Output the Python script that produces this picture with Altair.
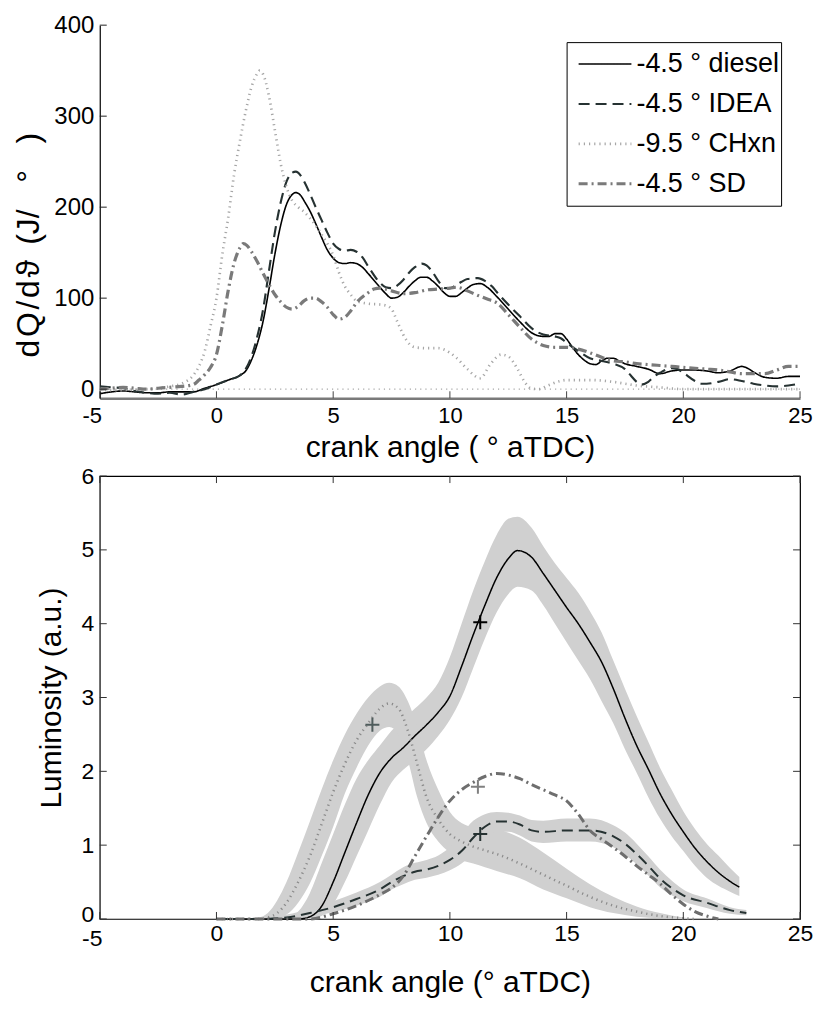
import altair as alt
import pandas as pd

FONT = "Liberation Sans"

# ---------------- data: heat release rate (top panel) ----------------
SERIES = ["-4.5 ° diesel", "-4.5 ° IDEA", "-9.5 ° CHxn", "-4.5 ° SD"]

HR_DIESEL = [(-5, -5), (-4.5, -3), (-4, -2), (-3.5, -3), (-3, -4), (-2.5, -4), (-2, -3), (-1.5, -3),
             (-1, -3), (-0.5, 1), (0, 5), (0.5, 10), (1, 15), (1.25, 20), (1.5, 32), (1.75, 50),
             (2, 75), (2.25, 110), (2.5, 148), (2.75, 180), (3, 203), (3.25, 214), (3.4, 216),
             (3.6, 213), (3.8, 205), (4, 196), (4.25, 182), (4.5, 167), (4.75, 153), (5, 144),
             (5.25, 139), (5.5, 138), (5.75, 139), (6, 138), (6.25, 134), (6.5, 127), (7, 112),
             (7.25, 105), (7.5, 100), (7.75, 101), (8, 106), (8.25, 113), (8.5, 119), (8.75, 123),
             (9, 123), (9.25, 119), (9.5, 113), (9.75, 106), (10, 102), (10.25, 102), (10.5, 106),
             (10.75, 111), (11, 115), (11.3, 116), (11.6, 112), (12, 102), (12.5, 88), (13, 74),
             (13.5, 62), (14, 58), (14.25, 58), (14.5, 61), (14.75, 61), (15, 55), (15.25, 46),
             (15.5, 38), (15.75, 32), (16, 28), (16.25, 27), (16.5, 31), (16.75, 34), (17, 34),
             (17.25, 31), (17.5, 28), (18, 25), (18.5, 22), (19, 17), (19.5, 20), (20, 21),
             (20.5, 21), (21, 20), (21.5, 18), (22, 20), (22.5, 25), (22.75, 23), (23, 19),
             (23.5, 13), (24, 12), (24.5, 14), (25, 14)]

HR_IDEA = [(-5, 3), (-4.5, 2), (-4, 1), (-3.5, -2), (-3, -4), (-2.5, -5), (-2, -4), (-1.5, -6),
           (-1, -3), (-0.5, 0), (0, 5), (0.5, 10), (1, 15), (1.25, 22), (1.5, 36), (1.75, 58),
           (2, 88), (2.25, 130), (2.5, 172), (2.75, 205), (3, 228), (3.25, 238), (3.4, 239),
           (3.6, 235), (3.8, 226), (4, 215), (4.25, 200), (4.5, 186), (4.75, 172), (5, 160),
           (5.25, 154), (5.5, 152), (5.75, 153), (6, 151), (6.25, 145), (6.5, 135), (7, 117),
           (7.25, 112), (7.5, 111), (7.75, 114), (8, 120), (8.25, 128), (8.5, 134), (8.8, 138),
           (9, 136), (9.25, 129), (9.5, 119), (9.8, 111), (10, 111), (10.25, 114), (10.5, 118),
           (10.75, 121), (11.2, 122), (11.5, 119), (11.8, 113), (12, 107), (12.5, 93), (13, 80),
           (13.5, 67), (14, 60), (14.5, 58), (14.75, 56), (15, 51), (15.5, 42), (16, 34),
           (16.5, 31), (17, 28), (17.5, 22), (17.75, 15), (18, 8), (18.2, 5), (18.5, 8),
           (18.75, 14), (19, 18), (19.5, 23), (19.75, 22), (20, 18), (20.5, 9), (20.75, 6),
           (21, 6), (21.5, 8), (22, 11), (22.5, 9), (23, 6), (23.5, 4), (24, 3), (24.5, 4), (25, 6)]

HR_CHXN = [(-5, -1), (-4, -1), (-3, 0), (-2.5, 1), (-2, 3), (-1.5, 6), (-1, 15), (-0.75, 25),
           (-0.5, 42), (-0.25, 70), (0, 100), (0.25, 148), (0.5, 188), (0.75, 235), (1, 272),
           (1.25, 305), (1.5, 332), (1.75, 347), (1.85, 350), (2, 346), (2.25, 322), (2.5, 285),
           (2.75, 248), (3, 222), (3.25, 207), (3.5, 200), (3.75, 195), (4, 188), (4.25, 180),
           (4.5, 170), (4.75, 160), (5, 147), (5.25, 128), (5.5, 113), (5.75, 104), (6, 97),
           (6.5, 94), (7, 93), (7.25, 92), (7.5, 88), (7.75, 74), (8, 60), (8.25, 50), (8.5, 46),
           (9, 45), (9.5, 45), (10, 40), (10.3, 34), (10.75, 22), (11.3, 12), (11.75, 28),
           (12.2, 38), (12.5, 36), (12.9, 22), (13.2, 8), (13.46, 1), (13.8, 0), (14.2, 4),
           (14.6, 8), (15, 10), (16, 10), (17, 8), (17.5, 6), (18, 4), (19, 2), (20, 0), (25, 0)]

HR_SD = [(-5, 0), (-4.5, 1), (-4, 2), (-3.5, 1), (-3, 0), (-2.5, 1), (-2, 2), (-1.5, 3), (-1, 5),
         (-0.75, 10), (-0.5, 16), (-0.25, 24), (0, 38), (0.25, 70), (0.5, 108), (0.75, 138),
         (1, 155), (1.15, 160), (1.3, 158), (1.5, 151), (1.75, 140), (2, 127), (2.25, 115),
         (2.5, 104), (2.75, 96), (3, 90), (3.25, 88), (3.5, 91), (3.75, 97), (4, 100), (4.25, 100),
         (4.5, 96), (4.75, 90), (5, 82), (5.25, 77), (5.5, 79), (5.75, 86), (6, 95), (6.5, 106),
         (6.75, 110), (7, 111), (7.5, 108), (8, 105), (8.5, 106), (9, 109), (9.5, 110), (10, 111),
         (10.3, 112), (10.75, 108), (11.2, 103), (11.6, 99), (12, 95), (12.5, 82), (13, 68),
         (13.5, 55), (14, 48), (14.5, 46), (15, 46), (15.5, 44), (16, 40), (16.5, 35), (17, 31),
         (17.5, 30), (18, 28), (18.5, 27), (19, 26), (19.5, 25), (20, 24), (20.5, 23), (21, 22),
         (21.5, 21), (22, 19), (22.5, 17), (23, 17), (23.5, 17), (24, 21), (24.5, 25), (25, 25)]

# ---------------- data: luminosity (bottom panel): (x, mean, low, high) ----------------
LUM_DIESEL = [(0, 0, 0, 0), (3.0, 0, 0, 0), (3.5, 0.0, 0.0, 0.1), (4.0, 0.03, 0.0, 0.35),
              (4.5, 0.17, 0.04, 0.75), (5.0, 0.5, 0.2, 1.15), (5.5, 0.9, 0.5, 1.55),
              (6.0, 1.3, 0.85, 1.9), (6.5, 1.68, 1.2, 2.15), (7.0, 1.98, 1.55, 2.35),
              (7.5, 2.18, 1.85, 2.55), (8.0, 2.32, 2.02, 2.7), (8.5, 2.48, 2.15, 2.85),
              (9.0, 2.63, 2.3, 3.0), (9.5, 2.8, 2.48, 3.2), (10.0, 3.02, 2.7, 3.55),
              (10.5, 3.42, 3.0, 4.0), (11.0, 3.85, 3.4, 4.45), (11.5, 4.25, 3.8, 4.85),
              (12.0, 4.62, 4.15, 5.2), (12.5, 4.88, 4.4, 5.42), (12.9, 4.99, 4.5, 5.45),
              (13.5, 4.9, 4.45, 5.3), (14.0, 4.68, 4.25, 5.05), (14.5, 4.45, 4.0, 4.82),
              (15.0, 4.22, 3.75, 4.62), (15.5, 4.0, 3.5, 4.42), (16.0, 3.75, 3.25, 4.17),
              (16.5, 3.48, 2.95, 3.88), (17.0, 3.12, 2.65, 3.5), (17.5, 2.72, 2.3, 3.12),
              (18.0, 2.35, 1.98, 2.75), (18.5, 2.03, 1.65, 2.4), (19.0, 1.7, 1.36, 2.05),
              (19.5, 1.42, 1.12, 1.75), (20.0, 1.18, 0.92, 1.46), (20.5, 0.96, 0.72, 1.22),
              (21.0, 0.78, 0.56, 1.02), (21.5, 0.63, 0.45, 0.86), (22.0, 0.51, 0.37, 0.69),
              (22.4, 0.43, 0.31, 0.57)]

LUM_CHXN = [(0, 0, 0, 0), (1.8, 0, 0, 0.02), (2.2, 0.02, 0, 0.08), (2.6, 0.08, 0.02, 0.25),
            (3.0, 0.22, 0.06, 0.5), (3.5, 0.5, 0.22, 0.9), (4.0, 0.85, 0.48, 1.32),
            (4.5, 1.28, 0.85, 1.75), (5.0, 1.72, 1.25, 2.15), (5.5, 2.1, 1.7, 2.5),
            (6.0, 2.42, 2.05, 2.78), (6.5, 2.65, 2.35, 3.0), (7.0, 2.85, 2.55, 3.15),
            (7.4, 2.92, 2.6, 3.2), (7.8, 2.85, 2.5, 3.15), (8.2, 2.55, 2.15, 2.95),
            (8.6, 2.1, 1.65, 2.6), (9.0, 1.65, 1.3, 2.15), (9.5, 1.35, 1.05, 1.75),
            (10.0, 1.15, 0.9, 1.45), (10.5, 1.05, 0.8, 1.3), (11.0, 0.98, 0.75, 1.25),
            (11.5, 0.93, 0.7, 1.25), (12.0, 0.88, 0.65, 1.22), (13.0, 0.75, 0.55, 1.1),
            (14.0, 0.6, 0.4, 0.9), (15.0, 0.45, 0.28, 0.68), (16.0, 0.3, 0.16, 0.47),
            (17.0, 0.18, 0.08, 0.3), (18.0, 0.1, 0.03, 0.17), (19.0, 0.04, 0.01, 0.08),
            (20.0, 0.01, 0, 0.02), (20.5, 0, 0, 0)]

LUM_IDEA = [(0, 0, 0, 0), (2.0, 0, 0, 0.02), (3.0, 0.02, 0, 0.06), (4.0, 0.08, 0.03, 0.14),
            (5.0, 0.16, 0.09, 0.24), (6.0, 0.27, 0.18, 0.36), (7.0, 0.4, 0.3, 0.5),
            (7.5, 0.5, 0.4, 0.6), (8.0, 0.58, 0.47, 0.7), (8.5, 0.64, 0.53, 0.76),
            (9.0, 0.67, 0.56, 0.8), (9.5, 0.72, 0.6, 0.86), (10.0, 0.8, 0.66, 0.97),
            (10.5, 0.92, 0.75, 1.15), (11.0, 1.1, 0.9, 1.33), (11.5, 1.25, 1.1, 1.42),
            (12.0, 1.32, 1.18, 1.45), (12.5, 1.32, 1.18, 1.44), (13.0, 1.28, 1.13, 1.4),
            (13.5, 1.2, 1.05, 1.34), (14.0, 1.18, 1.03, 1.33), (15.0, 1.2, 1.05, 1.36),
            (16.0, 1.2, 1.05, 1.36), (17.0, 1.12, 0.97, 1.27), (17.5, 1.02, 0.87, 1.17),
            (18.0, 0.88, 0.74, 1.02), (18.5, 0.72, 0.59, 0.85), (19.0, 0.55, 0.43, 0.67),
            (19.5, 0.42, 0.32, 0.52), (20.0, 0.32, 0.24, 0.4), (21.0, 0.22, 0.15, 0.28),
            (22.0, 0.12, 0.07, 0.16), (22.7, 0.08, 0.05, 0.12)]

LUM_SD = [(0, 0), (4.0, 0), (5.0, 0.07), (6.0, 0.18), (6.5, 0.25), (7.0, 0.33), (7.5, 0.42),
          (8.0, 0.58), (8.5, 0.85), (9.0, 1.12), (9.5, 1.38), (10.0, 1.6), (10.5, 1.75),
          (11.0, 1.85), (11.5, 1.93), (12.0, 1.97), (12.5, 1.95), (13.0, 1.9), (13.5, 1.82),
          (14.0, 1.75), (14.5, 1.68), (15.0, 1.6), (15.5, 1.42), (16.0, 1.2), (16.5, 1.08),
          (17.0, 0.97), (17.5, 0.85), (18.0, 0.72), (18.5, 0.6), (19.0, 0.48), (19.5, 0.33),
          (20.0, 0.2), (20.5, 0.1), (21.0, 0.04), (21.5, 0)]

# "+" markers (series, x, y)
MARKERS = [("-4.5 ° diesel", 11.3, 4.02), ("-9.5 ° CHxn", 6.68, 2.63),
           ("-4.5 ° SD", 11.2, 1.79), ("-4.5 ° IDEA", 11.3, 1.15)]

X_TICKS = [-5, 0, 5, 10, 15, 20, 25]
TOP_Y_TICKS = [0, 100, 200, 300, 400]
BOT_Y_TICKS = [0, 1, 2, 3, 4, 5, 6]

TOP_Y_TITLE = "d\u200aQ\u200a/\u200ad\u200aϑ\u00a0\u2009(J/\u00a0\u00a0\u00a0°\u00a0\u00a0\u00a0)"

# ---------------- styles ----------------
COLORS = ["#000000", "#263232", "#a6a6a6", "#7a7a7a"]
DASHES = [[1, 0], [11, 6], [1.2, 4], [9, 4, 2, 4]]
WIDTHS = [1.6, 3.2, 1.2, 1.3]
BAND = "#d0d0d0"
W = 702
H_TOP = 374
H_BOT = 444

HR = {SERIES[0]: HR_DIESEL, SERIES[1]: HR_IDEA, SERIES[2]: HR_CHXN, SERIES[3]: HR_SD}
hr_df = pd.concat([pd.DataFrame({"x": [p[0] for p in pts], "y": [p[1] for p in pts], "series": s})
                   for s, pts in HR.items()], ignore_index=True)

band_rows = []
for s, rows in [(SERIES[0], LUM_DIESEL), (SERIES[2], LUM_CHXN), (SERIES[1], LUM_IDEA)]:
    for r in rows:
        band_rows.append({"series": s, "x": r[0], "m": r[1], "lo": r[2], "hi": r[3]})
band_df = pd.DataFrame(band_rows)
line_df = pd.concat([band_df[["series", "x", "m"]],
                     pd.DataFrame({"series": SERIES[3], "x": [p[0] for p in LUM_SD],
                                   "m": [p[1] for p in LUM_SD]})], ignore_index=True)
mk_df = pd.DataFrame(MARKERS, columns=["series", "x", "y"])

hyphen = "datum.value < 0 ? '-' + abs(datum.value) : '' + datum.value"
neg_shift = {"condition": {"test": "datum.value < 0", "value": -8}, "value": 0}
neg_pad = {"condition": {"test": "datum.value < 0", "value": 9}, "value": 4}
zero_up = {"condition": {"test": "datum.value === 0", "value": -4}, "value": 0}

legend = alt.Legend(title=None, orient="none", legendX=468, legendY=17, strokeColor="black",
                    fillColor="white", padding=2, labelFontSize=27, labelFont=FONT,
                    labelColor="black", symbolType="stroke", symbolSize=2800, rowPadding=0,
                    clipHeight=40, symbolOffset=8, labelOffset=3, labelLimit=400)

xs_top = alt.Scale(domain=[-5, 25], nice=False, zero=False)
ys_top = alt.Scale(domain=[-10, 400], nice=False, zero=False)

top_lines = alt.Chart(hr_df).mark_line(interpolate="monotone", clip=True).encode(
    x=alt.X("x:Q", scale=xs_top,
            axis=alt.Axis(values=X_TICKS, ticks=False, labelExpr=hyphen, labelFontSize=22,
                          labelFlush=False, labelOffset=neg_shift,
                          labelPadding=7, domainColor="#7a7a7a", domainWidth=2.5,
                          title="crank angle ( ° aTDC)", titleFontSize=30, titleY=58,
                          titleBaseline="alphabetic")),
    y=alt.Y("y:Q", scale=ys_top,
            axis=alt.Axis(values=TOP_Y_TICKS, ticks=False, labelFontSize=24, labelPadding=6,
                          labelFlush=False,
                          domainColor="black", domainWidth=1.2, title=TOP_Y_TITLE,
                          titleFontSize=32, titleX=-54, titleY=220)),
    color=alt.Color("series:N", scale=alt.Scale(domain=SERIES, range=COLORS), legend=legend),
    strokeDash=alt.StrokeDash("series:N", scale=alt.Scale(domain=SERIES, range=DASHES), legend=legend),
    strokeWidth=alt.StrokeWidth("series:N", scale=alt.Scale(domain=SERIES, range=WIDTHS), legend=legend),
)

zero_line = alt.Chart(pd.DataFrame({"y": [0]})).mark_rule(
    color="#a6a6a6", strokeDash=[1.2, 4], strokeWidth=1.2).encode(y=alt.Y("y:Q", scale=ys_top))

top_ytick = alt.Chart(pd.DataFrame({"v": TOP_Y_TICKS})).mark_rule(color="#222", strokeWidth=1).encode(
    y=alt.Y("v:Q", scale=ys_top), x=alt.value(0), x2=alt.value(7))
top_xtick = alt.Chart(pd.DataFrame({"v": X_TICKS})).mark_rule(color="#444", strokeWidth=1).encode(
    x=alt.X("v:Q", scale=xs_top), y=alt.value(H_TOP - 7), y2=alt.value(H_TOP))

top = alt.layer(zero_line, top_lines, top_ytick, top_xtick).properties(
    width=W, height=H_TOP, view=alt.ViewBackground(stroke="transparent"))

# ---------------- bottom panel ----------------
xs_bot = alt.Scale(domain=[-5, 25], nice=False, zero=False)
ys_bot = alt.Scale(domain=[0, 6], nice=False, zero=False)

bands = alt.Chart(band_df).mark_area(color=BAND, interpolate="monotone", opacity=1).encode(
    x=alt.X("x:Q", scale=xs_bot,
            axis=alt.Axis(values=X_TICKS, ticks=False, labelExpr=hyphen, labelFontSize=23,
                          labelFlush=False, labelOffset=neg_shift,
                          labelPadding=neg_pad, domain=False, title="crank angle (° aTDC)",
                          titleFontSize=30, titleY=73, titleBaseline="alphabetic")),
    y=alt.Y("lo:Q", scale=ys_bot,
            axis=alt.Axis(values=BOT_Y_TICKS, format="d", ticks=False, labelFontSize=23,
                          labelFlush=False, labelOffset=zero_up,
                          labelPadding=6, domain=False, title="Luminosity (a.u.)",
                          titleFontSize=30, titleX=-33, titleY=222)),
    y2="hi:Q",
    detail="series:N",
)

bot_lines = alt.Chart(line_df).mark_line(interpolate="monotone").encode(
    x=alt.X("x:Q", scale=xs_bot),
    y=alt.Y("m:Q", scale=ys_bot),
    color=alt.Color("series:N", scale=alt.Scale(domain=SERIES, range=["#000000", "#263232", "#8a8a8a", "#6e6e6e"]), legend=None),
    strokeDash=alt.StrokeDash("series:N", scale=alt.Scale(domain=SERIES, range=DASHES), legend=None),
    strokeWidth=alt.StrokeWidth("series:N", scale=alt.Scale(domain=SERIES, range=[1.5, 3.0, 1.4, 1.5]), legend=None),
)

marks = alt.Chart(mk_df).mark_point(shape="M-1,0L1,0M0,-1L0,1", filled=False, size=196,
                                    strokeWidth=2, opacity=1).encode(
    x=alt.X("x:Q", scale=xs_bot),
    y=alt.Y("y:Q", scale=ys_bot),
    color=alt.Color("series:N", scale=alt.Scale(domain=SERIES, range=["#000000", "#263232", "#4f5c5c", "#808080"]), legend=None),
)

bt_yl = alt.Chart(pd.DataFrame({"v": BOT_Y_TICKS})).mark_rule(color="#333").encode(
    y=alt.Y("v:Q", scale=ys_bot), x=alt.value(0), x2=alt.value(7))
bt_yr = alt.Chart(pd.DataFrame({"v": BOT_Y_TICKS})).mark_rule(color="#333").encode(
    y=alt.Y("v:Q", scale=ys_bot), x=alt.value(W - 7), x2=alt.value(W))
bt_xb = alt.Chart(pd.DataFrame({"v": X_TICKS})).mark_rule(color="#333").encode(
    x=alt.X("v:Q", scale=xs_bot), y=alt.value(H_BOT - 7), y2=alt.value(H_BOT))
bt_xt = alt.Chart(pd.DataFrame({"v": X_TICKS})).mark_rule(color="#333").encode(
    x=alt.X("v:Q", scale=xs_bot), y=alt.value(0), y2=alt.value(7))

bottom = alt.layer(bands, bot_lines, marks, bt_yl, bt_yr, bt_xb, bt_xt).resolve_scale(
    color="independent", strokeDash="independent", strokeWidth="independent").properties(
    width=W, height=H_BOT, view=alt.ViewBackground(stroke="black", strokeWidth=1.2))

chart = alt.vconcat(top, bottom, spacing=78, bounds="flush").resolve_scale(
    color="independent", strokeDash="independent", strokeWidth="independent").properties(
    padding={"left": 12, "top": 11, "right": 0, "bottom": 0}, background="white"
).configure_axis(
    labelFont=FONT, titleFont=FONT, labelColor="black", titleColor="black",
    titleFontWeight="normal", grid=False
).configure_view(stroke="transparent")

chart.save("out.html", embed_options={"renderer": "svg", "actions": False})
